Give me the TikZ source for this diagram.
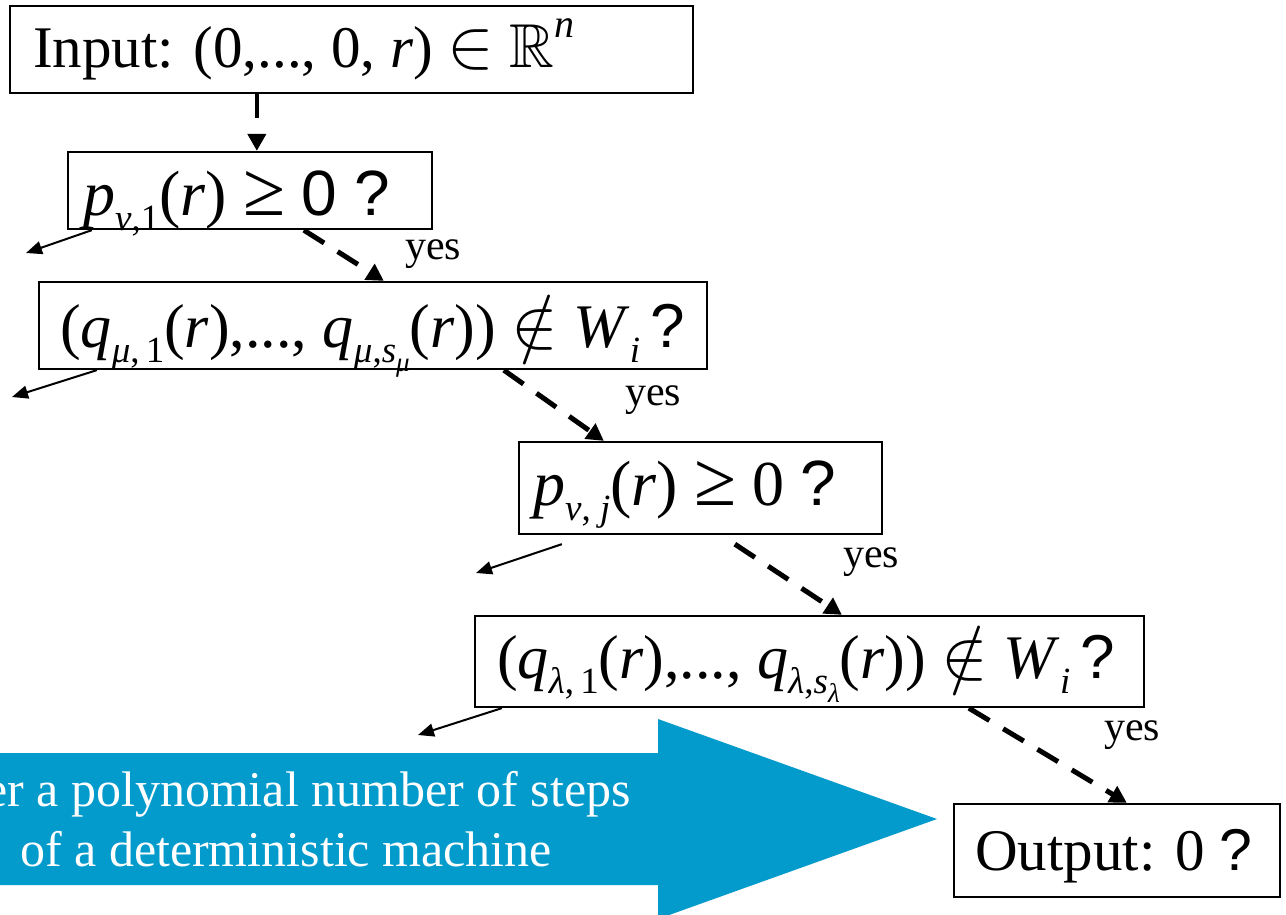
\documentclass[tikz,border=0pt]{standalone}
\usepackage{fontspec}
\setmainfont{Liberation Serif}
\setsansfont{Liberation Sans}
\usepackage{amssymb}
\usepackage{graphicx}
\usetikzlibrary{arrows.meta}

\definecolor{stepblue}{RGB}{3,154,204}

% text sizes
\newcommand\topsz{\fontsize{59}{70}\selectfont}
\newcommand\bigsz{\fontsize{64}{76}\selectfont}
\newcommand\widesz{\fontsize{62}{74}\selectfont}
\newcommand\yessz{\fontsize{42}{50}\selectfont}
\newcommand\bandsz{\fontsize{50}{60}\selectfont}
% subscripts and second-level subscripts
\newcommand\sbs[1]{\raisebox{-15pt}{\fontsize{37}{40}\selectfont #1}}
\newcommand\ssbs[1]{\raisebox{-9pt}{\fontsize{27}{30}\selectfont #1}}
% math symbols enlarged to the text size
\newcommand\msym[2]{\scalebox{#1}{\normalsize$#2$}}
\newcommand\qm{{\sffamily ?}}
\newcommand\gte{\scalebox{1.2}{≥}}

\tikzset{
  box/.style={draw, line width=2.3pt, inner sep=0pt},
  txt/.style={anchor=base west, inner sep=0pt, font=\bigsz},
  yeslbl/.style={anchor=base west, inner sep=0pt, font=\yessz},
  yesarrow/.style={line width=5pt, dash pattern=on 24pt off 16pt,
    -{Triangle[length=17pt,width=18pt]}},
  noarrow/.style={line width=2pt, -{Triangle[length=16pt,width=13pt]}},
  bandtxt/.style={inner sep=0pt, text=white, font=\bandsz}
}

\begin{document}
\begin{tikzpicture}[x=1pt,y=-1pt]
\clip (0,0) rectangle (1286,914);
\fill[white] (0,0) rectangle (1286,914);

% wide arrow standing for the deterministic steps
\fill[stepblue] (-20,753) -- (658,753) -- (658,719) -- (937,819)
  -- (658,919) -- (658,885) -- (-20,885) -- cycle;
\node[bandtxt, anchor=base east] (band1) at (631,806) {er a polynomial number of steps};
\node[bandtxt, anchor=base west] (band2) at (20,866) {of a deterministic machine};

% boxes
\node[box, minimum width=683pt, minimum height=87pt] (b1) at (351.5,49.5) {};
\node[box, minimum width=364pt, minimum height=77pt] (b2) at (250,190.5) {};
\node[box, minimum width=668pt, minimum height=87pt] (b3) at (373,325.5) {};
\node[box, minimum width=363pt, minimum height=92pt] (b4) at (700.5,488) {};
\node[box, minimum width=669pt, minimum height=91pt] (b5) at (809.5,661.5) {};
\node[box, minimum width=326pt, minimum height=93pt] (b6) at (1117,850.5) {};

% box texts
\node[txt, font=\topsz] (t1) at (33,67) {Input: (0,..., 0, \textit{r}) \msym{7}{\in}
  \msym{6.2}{\mathbb{R}}\raisebox{30pt}{\fontsize{40}{44}\selectfont\textit{n}}};
\node[txt] (t2) at (83,215) {\textit{p}\sbs{\textit{v},1}(\textit{r}) \gte{} {\sffamily 0 ?}};
\node[txt, font=\widesz] (t3) at (60,347) {(\textit{q}\sbs{\textit{μ},\,1}(\textit{r}),...,
  \textit{q}\sbs{\textit{μ},\textit{s}\ssbs{\textit{μ}}}(\textit{r}))
  \msym{7}{\notin} \textit{W}\sbs{\textit{i}}\,\qm};
\node[txt] (t4) at (533,505) {\textit{p}\sbs{\textit{v}, \textit{j}}(\textit{r}) \gte{} 0 \qm};
\node[txt, font=\widesz] (t5) at (497,678) {(\textit{q}\sbs{\textit{λ},\,1}(\textit{r}),...,
  \textit{q}\sbs{\textit{λ},\textit{s}\ssbs{\textit{λ}}}(\textit{r}))
  \msym{7}{\notin} \textit{W}\sbs{\textit{i}}\,\qm};
\node[txt, font=\topsz] (t6) at (975,870) {Output: 0 \qm};

% "yes" labels
\node[yeslbl] (y1) at (405,259) {yes};
\node[yeslbl] (y2) at (625,405) {yes};
\node[yeslbl] (y3) at (843,567) {yes};
\node[yeslbl] (y4) at (1104,740) {yes};

% free ends of the "no" branches
\coordinate (n1) at (26,253);
\coordinate (n2) at (12,397);
\coordinate (n3) at (476,573);
\coordinate (n4) at (418,735);

% "yes" branches
\draw[yesarrow, line width=4pt] ([xshift=248pt]b1.south west) -- ([xshift=190pt]b2.north west);
\draw[yesarrow] ([xshift=237pt]b2.south west) -- ([xshift=346pt]b3.north west);
\draw[yesarrow] ([xshift=466pt]b3.south west) -- ([xshift=86pt]b4.north west);
\draw[yesarrow] ([xshift=217pt,yshift=-9pt]b4.south west) -- ([xshift=368pt]b5.north west);
\draw[yesarrow] ([xshift=495pt]b5.south west) -- ([xshift=174pt]b6.north west);

% "no" branches
\draw[noarrow] ([xshift=25pt]b2.south west) -- (n1);
\draw[noarrow] ([xshift=59pt]b3.south west) -- (n2);
\draw[noarrow] ([xshift=44pt,yshift=-9pt]b4.south west) -- (n3);
\draw[noarrow] ([xshift=28pt]b5.south west) -- (n4);
\end{tikzpicture}
\end{document}
